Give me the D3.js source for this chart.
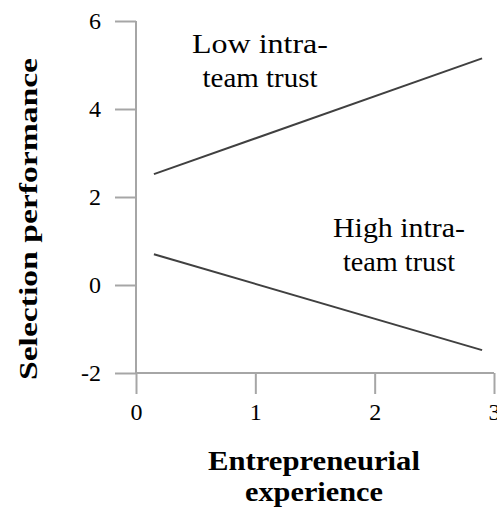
<!DOCTYPE html>
<html>
<head>
<meta charset="utf-8">
<script src="https://cdn.jsdelivr.net/npm/d3@7"></script>
<style>
  body { margin: 0; background: #fff; }
  text { font-family: "Liberation Serif", "Times New Roman", serif; }
</style>
</head>
<body>
<svg id="chart" width="497" height="513"></svg>
<script>
// experience values at the line ends
const experience = [0.15, 2.9];
// fitted selection performance for each trust group
const lowTrust = [2.52, 5.15];
const highTrust = [0.7, -1.48];
const groupNames = [["Low intra-", "team trust"], ["High intra-", "team trust"]];
const xTicks = [0, 1, 2, 3];
const yTicks = [-2, 0, 2, 4, 6];

const svg = d3.select("#chart");

const x = d3.scaleLinear().domain([0, 3]).range([136, 494]);
const y = d3.scaleLinear().domain([-2, 6]).range([373, 21]);

const axisColor = "#a6a6a6";

// y axis, ticks pointing left
const yAxis = svg.append("g")
    .attr("transform", `translate(${x(0)},0)`)
    .call(d3.axisLeft(y).tickValues(yTicks).tickSize(21).tickPadding(14).tickFormat(d => String(d)));
yAxis.select(".domain").remove();
yAxis.selectAll(".tick line").attr("stroke", axisColor).attr("stroke-width", 2);
yAxis.selectAll(".tick text").attr("font-size", 24).attr("fill", "#000");

// x axis, ticks pointing down
const xAxis = svg.append("g")
    .attr("transform", `translate(0,${y(-2)})`)
    .call(d3.axisBottom(x).tickValues(xTicks).tickSize(21).tickPadding(9).tickFormat(d => String(d)));
xAxis.select(".domain").remove();
xAxis.selectAll(".tick line").attr("stroke", axisColor).attr("stroke-width", 2);
xAxis.selectAll(".tick text").attr("font-size", 24).attr("fill", "#000");

// the axis lines themselves
svg.append("line")
    .attr("x1", x(0)).attr("x2", x(0))
    .attr("y1", y(6)).attr("y2", y(-2))
    .attr("stroke", axisColor).attr("stroke-width", 2);
svg.append("line")
    .attr("x1", x(0)).attr("x2", x(3))
    .attr("y1", y(-2)).attr("y2", y(-2))
    .attr("stroke", axisColor).attr("stroke-width", 2);

// simple slopes
const line = d3.line().x(d => x(d[0])).y(d => y(d[1]));
[lowTrust, highTrust].forEach(vals => {
    svg.append("path")
        .attr("d", line(experience.map((e, i) => [e, vals[i]])))
        .attr("fill", "none")
        .attr("stroke", "#404040")
        .attr("stroke-width", 2);
});

// group labels (x, first baseline, widths of each line)
const labelPos = [[260, 53, [136, 115]], [399, 237, [132, 112]]];
groupNames.forEach((lines, i) => {
    const t = svg.append("text")
        .attr("text-anchor", "middle")
        .attr("font-size", 28)
        .attr("fill", "#000");
    lines.forEach((s, j) => {
        t.append("tspan")
            .attr("x", labelPos[i][0])
            .attr("y", labelPos[i][1] + j * 34)
            .attr("textLength", labelPos[i][2][j])
            .attr("lengthAdjust", "spacingAndGlyphs")
            .text(s);
    });
});

// axis titles
svg.append("text")
    .attr("transform", "translate(37,219) rotate(-90)")
    .attr("text-anchor", "middle")
    .attr("font-size", 26)
    .attr("font-weight", "bold")
    .attr("textLength", 322)
    .attr("lengthAdjust", "spacingAndGlyphs")
    .text("Selection performance");

const xt = svg.append("text")
    .attr("text-anchor", "middle")
    .attr("font-size", 27)
    .attr("font-weight", "bold");
xt.append("tspan").attr("x", 314).attr("y", 470)
    .attr("textLength", 212).attr("lengthAdjust", "spacingAndGlyphs")
    .text("Entrepreneurial");
xt.append("tspan").attr("x", 314).attr("y", 501)
    .attr("textLength", 138).attr("lengthAdjust", "spacingAndGlyphs")
    .text("experience");
</script>
</body>
</html>
